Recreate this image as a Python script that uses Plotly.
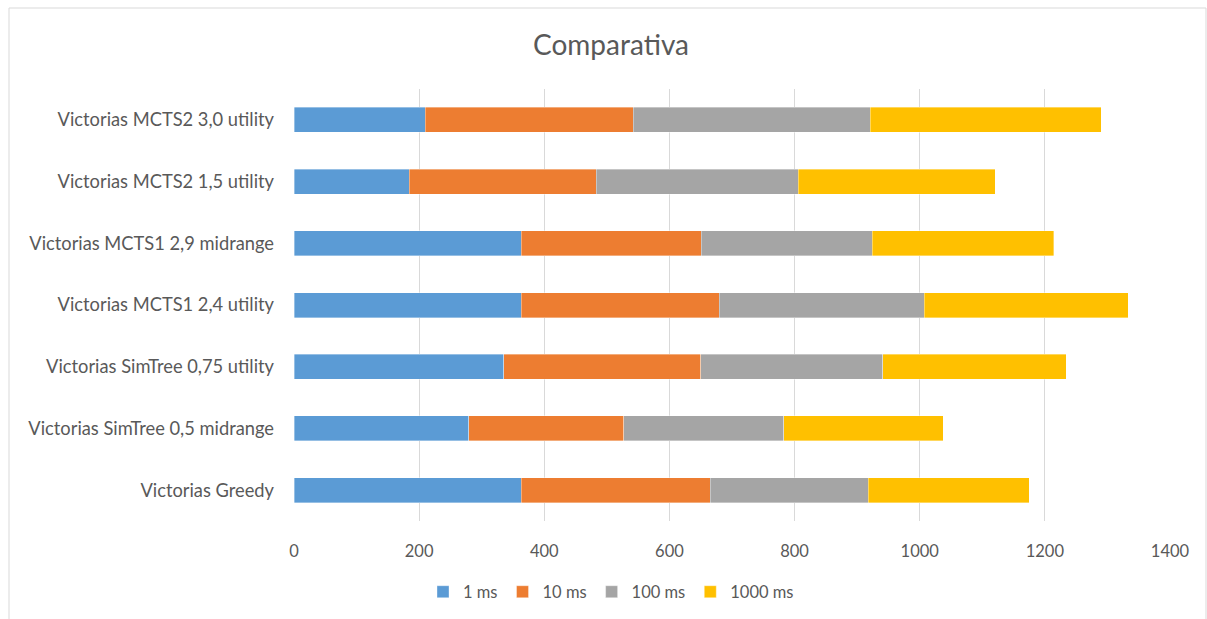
import plotly.graph_objects as go

categories = [
    "Victorias Greedy",
    "Victorias SimTree 0,5 midrange",
    "Victorias SimTree 0,75 utility",
    "Victorias MCTS1 2,4 utility",
    "Victorias MCTS1 2,9 midrange",
    "Victorias MCTS2 1,5 utility",
    "Victorias MCTS2 3,0 utility",
]
ms1 = [363, 279, 335, 363, 363, 184, 210]
ms10 = [302, 248, 315, 317, 288, 299, 332]
ms100 = [253, 256, 291, 327, 273, 323, 379]
ms1000 = [257, 255, 293, 326, 290, 315, 369]

series_names = ["1 ms", "10 ms", "100 ms", "1000 ms"]
series_vals = [ms1, ms10, ms100, ms1000]
colors = ["#5B9BD5", "#ED7D31", "#A5A5A5", "#FFC000"]
x_ticks = [0, 200, 400, 600, 800, 1000, 1200, 1400]

FONT = "Lato"
fig = go.Figure()
for name, vals, col in zip(series_names, series_vals, colors):
    fig.add_trace(go.Bar(
        y=categories, x=vals, name=name, orientation="h",
        marker=dict(color=col, line=dict(color="rgba(255,255,255,0.6)", width=0.6)),
    ))

W, H = 1207, 619
L, R, T, B = 294, 37, 89, 98
pw, ph = W - L - R, H - T - B

def px_x(p):
    return (p - L) / pw

def px_y(p):
    return (H - B - p) / ph

fig.update_layout(
    width=W, height=H,
    margin=dict(l=L, r=R, t=T, b=B),
    barmode="stack",
    bargap=0.595,
    paper_bgcolor="white",
    plot_bgcolor="white",
    font=dict(family=FONT, color="#595959", size=17),
    title=dict(text="Comparativa", x=611 / W, xref="container", xanchor="center",
               y=1 - 45 / H, yref="container", yanchor="middle",
               font=dict(family=FONT, size=28, color="#595959")),
    xaxis=dict(range=[0, 1400], tickvals=x_ticks, ticktext=[str(v) for v in x_ticks],
               showgrid=True, gridcolor="#D9D9D9", gridwidth=1,
               zeroline=False, showline=False, ticks="",
               ticklabelstandoff=18, tickfont=dict(size=16.5, color="#595959")),
    yaxis=dict(showgrid=False, zeroline=False, showline=False, ticks="",
               ticklabelstandoff=19, tickfont=dict(size=18.3, color="#595959"),
               categoryorder="array", categoryarray=categories),
    legend=dict(orientation="h", xref="container", x=611 / W, xanchor="center",
                yref="container", y=1 - 592 / H, yanchor="middle",
                font=dict(size=16.5, color="#595959"),
                traceorder="normal", itemwidth=30),
    shapes=[dict(type="rect", xref="paper", yref="paper",
                 x0=px_x(9), x1=px_x(1206), y0=px_y(625), y1=px_y(8),
                 line=dict(color="#D9D9D9", width=1), fillcolor="rgba(0,0,0,0)",
                 layer="below")],
)

fig.write_html("out.html")
